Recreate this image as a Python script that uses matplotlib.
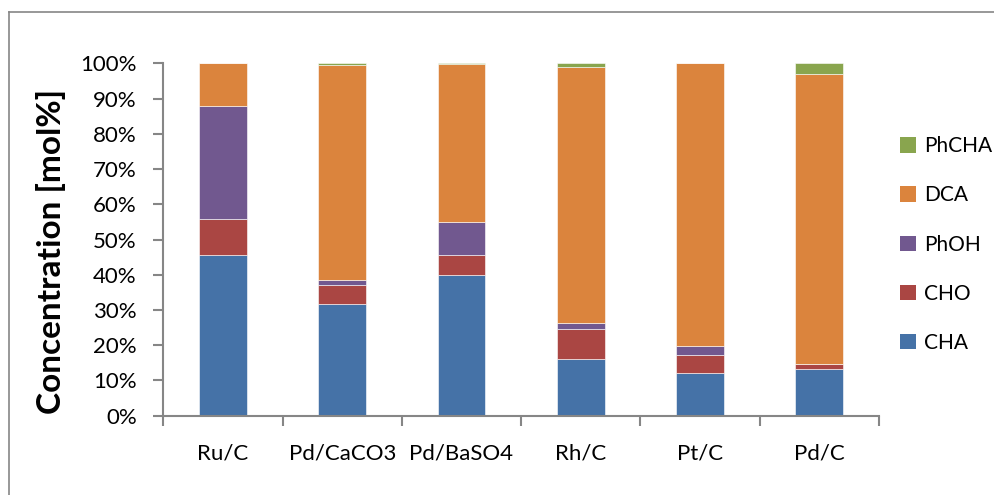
import numpy as np
import matplotlib.pyplot as plt
from matplotlib.patches import Patch
from matplotlib.lines import Line2D

plt.rcParams['font.family'] = ['Lato', 'DejaVu Sans']

catalysts = ["Ru/C", "Pd/CaCO3", "Pd/BaSO4", "Rh/C", "Pt/C", "Pd/C"]
species = ["CHA", "CHO", "PhOH", "DCA", "PhCHA"]

# mol% per catalyst
cha = [45.7, 31.6, 40.0, 16.0, 12.0, 13.2]
cho = [10.1, 5.4, 5.5, 8.7, 5.1, 1.6]
phoh = [32.2, 1.4, 9.4, 1.7, 2.6, 0.0]
dca = [12.0, 61.2, 44.9, 72.5, 80.3, 82.2]
phcha = [0.0, 0.4, 0.2, 1.1, 0.0, 3.0]

colors = ["#4572A7", "#AA4643", "#71588F", "#DB843D", "#89A54E"]
axis_grey = "#868686"

fig = plt.figure(figsize=(9.95, 4.95), dpi=100)
ax = fig.add_axes([0.1641, 0.1602, 0.8834 - 0.1641, 0.8721 - 0.1602])

x = np.arange(len(catalysts))
bottom = np.zeros(len(catalysts))
for name, vals, c in zip(species, [cha, cho, phoh, dca, phcha], colors):
    vals = np.array(vals) / 100.0
    ax.bar(x, vals, 0.4, bottom=bottom, color=c, edgecolor="#ffffff",
           linewidth=0.4, label=name)
    bottom += vals

ax.set_xlim(-0.5, len(catalysts) - 0.5)
ax.set_ylim(0, 1)

# hide the extra 2 axes
ax.spines["right"].set_color("none")
ax.spines["top"].set_color("none")
for s in ["left", "bottom"]:
    ax.spines[s].set_color(axis_grey)
    ax.spines[s].set_linewidth(1.5)

ax.set_yticks(np.linspace(0, 1, 11))
ax.set_yticklabels(["%d%%" % v for v in range(0, 101, 10)])
ax.tick_params(axis="y", length=7, width=1.5, color=axis_grey, pad=12,
               labelsize=16)

# category ticks sit between the bars, labels in the middle
ax.set_xticks(np.arange(-0.5, len(catalysts)), minor=False)
ax.set_xticklabels([])
ax.set_xticks(x, minor=True)
ax.set_xticklabels(catalysts, minor=True)
ax.tick_params(axis="x", which="major", length=7, width=1.5, color=axis_grey)
ax.tick_params(axis="x", which="minor", length=0, pad=20, labelsize=16)

fig.text(0.051, 0.493, "Concentration [mol%]", rotation=90, ha="center",
         va="center", fontsize=24, fontweight="bold")

handles = [Patch(facecolor=c) for c in colors][::-1]
fig.legend(handles, species[::-1], loc="center left",
           bbox_to_anchor=(900 / 995, 0.506), frameon=False, fontsize=15,
           handlelength=0.75, handleheight=0.75, handletextpad=0.4,
           labelspacing=1.4, borderpad=0, borderaxespad=0)

# outer chart border (only left and top visible in the crop)
fig.add_artist(Line2D([8.5 / 995, 8.5 / 995], [0, 1 - 12 / 495],
                      transform=fig.transFigure, color=axis_grey, lw=1.2))
fig.add_artist(Line2D([8.5 / 995, 1], [1 - 12 / 495, 1 - 12 / 495],
                      transform=fig.transFigure, color=axis_grey, lw=1.2))

fig.savefig("out.png", dpi=100)
